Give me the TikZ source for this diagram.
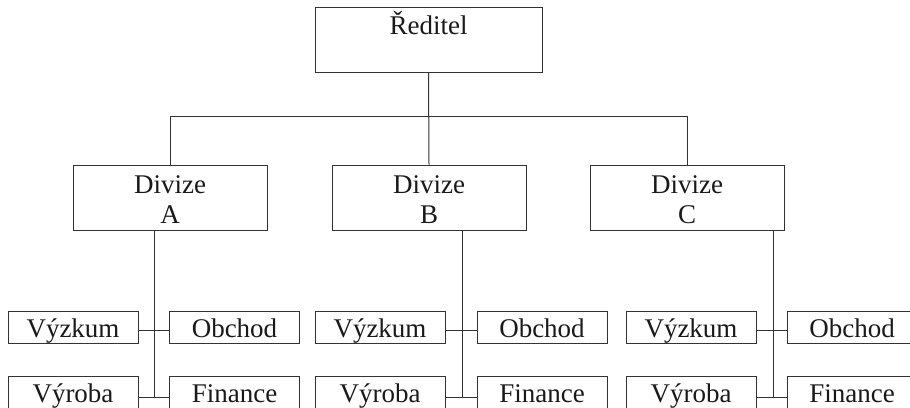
\documentclass[tikz,border=0pt]{standalone}
\usepackage{fontspec}
\setmainfont{Liberation Serif}
\begin{document}
\begin{tikzpicture}[x=1pt,y=-1pt,
  box/.style={draw=black!80, line width=1pt, rectangle, inner sep=0pt},
  txt/.style={anchor=base, inner sep=0pt, font=\fontsize{27}{30}\selectfont, text=black!90},
  conn/.style={draw=black!80, line width=1pt}]
\useasboundingbox (0,0) rectangle (910,407);
\clip (0,0) rectangle (910,407);

% Director
\node[box, minimum width=227, minimum height=65] (dir) at (428.5,39.5) {};
\node[txt] (dirT) at (428.5,34) {Ředitel};

% Divisions
\foreach \n/\x/\l in {dA/170/A, dB/429/B, dC/687/C}{
  \node[box, minimum width=194, minimum height=65] (\n) at (\x,197.5) {};
  \node[txt] (\n T1) at (\x,193) {Divize};
  \node[txt] (\n T2) at (\x,223) {\l};
}

% Departments: research/sales in the first row, production/finance in the second
\foreach \s/\xl/\xr/\t in {A/73/234.5/154.5, B/380/542/462, C/691/852/773}{
  \node[box, minimum width=130, minimum height=32] (v\s) at (\xl,327) {};
  \node[txt] at (\xl,337) {Výzkum};
  \node[box, minimum width=130, minimum height=32] (o\s) at (\xr,327) {};
  \node[txt] at (\xr,337) {Obchod};
  \node[box, minimum width=130, minimum height=32] (r\s) at (\xl,392) {};
  \node[txt] at (\xl,402) {Výroba};
  \node[box, minimum width=130, minimum height=32] (f\s) at (\xr,392) {};
  \node[txt] at (\xr,402) {Finance};
  \coordinate (t\s) at (\t,397);
}

% Director to divisions
\draw[conn] (dir.south) -- (dB.north);
\draw[conn] (dA.north) -- ++(0,-48) -| (dC.north);

% Division trunks and branches
\foreach \s in {A,B,C}{
  \draw[conn] (d\s.south -| t\s) -- (t\s);
  \draw[conn] ([yshift=-3pt]v\s.east) -- ([yshift=-3pt]o\s.west);
  \draw[conn] (r\s.east |- t\s) -- (f\s.west |- t\s);
}
\end{tikzpicture}
\end{document}
